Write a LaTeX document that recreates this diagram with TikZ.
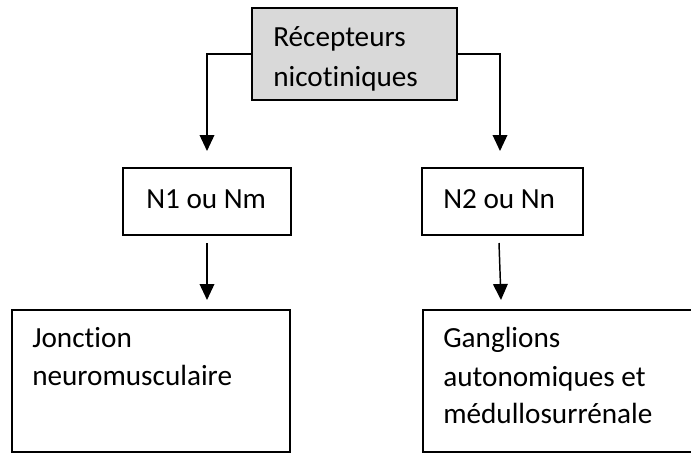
\documentclass[tikz,border=0pt]{standalone}
\usepackage{fontspec}
\setmainfont[Ligatures={NoCommon}]{Carlito}
\usetikzlibrary{arrows.meta,calc}
\begin{document}
\begin{tikzpicture}[x=0.75pt,y=-0.75pt,
  box/.style={draw=black,line width=1.2pt,inner sep=0pt,outer sep=0pt},
  graybox/.style={box,fill=boxgray},
  lbl/.style={anchor=base west,inner sep=0pt,font=\fontsize{21.9pt}{29pt}\selectfont},
  arr/.style={draw=black,line width=1.1pt,-{Triangle[length=12pt,width=11pt]}}]
\definecolor{boxgray}{HTML}{D9D9D9}
\useasboundingbox (0,0) rectangle (691,453);
\clip (0,0) rectangle (691,453);
% boxes
\node[graybox,minimum width=153.75pt,minimum height=69pt] (rec) at (354.5,54) {};
\node[box,minimum width=126pt,minimum height=50.25pt] (n1) at (207,201.5) {};
\node[box,minimum width=120.75pt,minimum height=50.25pt] (n2) at (502.5,201.5) {};
\node[box,minimum width=208.5pt,minimum height=106.5pt] (jn) at (151,381) {};
\node[box,minimum width=222.75pt,minimum height=106.5pt] (gg) at (571.5,381) {};
% texts
\node[lbl] (t1) at (273,47) {Récepteurs};
\node[lbl] (t2) at (273,86) {nicotiniques};
\node[lbl] (t3) at (146,208) {N1 ou Nm};
\node[lbl] (t4) at (443,208) {N2 ou Nn};
\node[lbl] (t5) at (32,347) {Jonction};
\node[lbl] (t6) at (32,385) {neuromusculaire};
\node[lbl] (t7) at (443,347) {Ganglions};
\node[lbl] (t8) at (443,386) {autonomiques et};
\node[lbl] (t9) at (443,423) {médullosurrénale};
% connectors
\coordinate (a1) at ($(n1.north)+(0,-17)$);
\coordinate (a2) at ($(n2.north)+(-2.5,-17)$);
\draw[arr] (rec.west) -| (a1);
\draw[arr] (rec.east) -| (a2);
\coordinate (b1s) at ($(n1.south)+(0,8)$);
\coordinate (b1e) at ($(jn.north)+(56,-10)$);
\draw[arr] (b1s) -- (b1e);
\coordinate (b2s) at ($(n2.south)+(-3.5,8)$);
\coordinate (b2e) at ($(n2.south)+(-1.5,65)$);
\draw[arr] (b2s) -- (b2e);
\end{tikzpicture}
\end{document}
